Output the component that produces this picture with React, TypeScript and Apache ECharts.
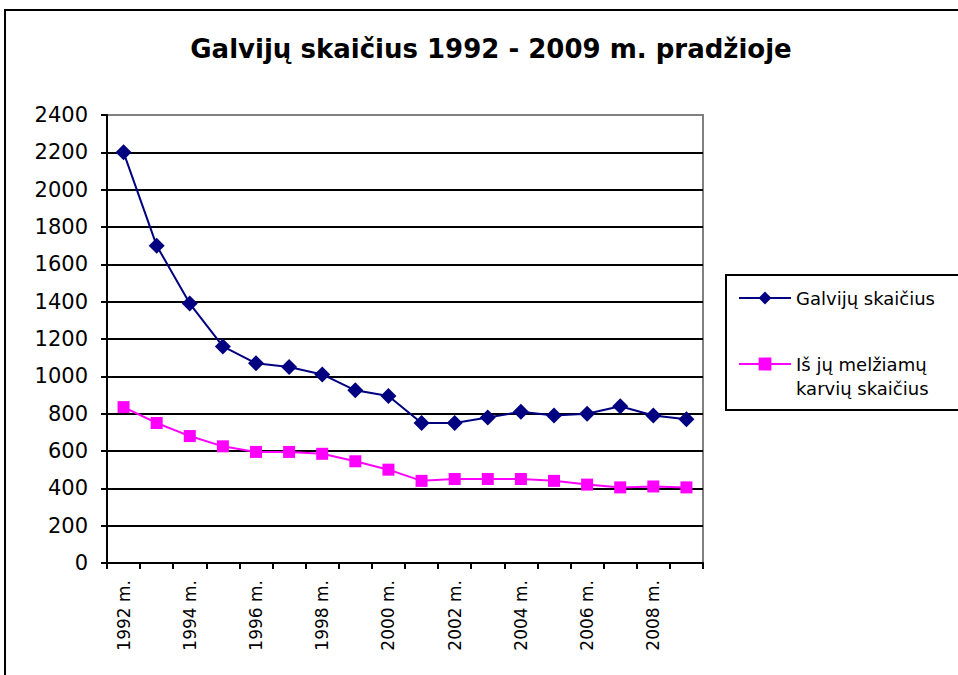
import React, { useEffect, useRef } from "react";
import * as echarts from "echarts";

const years = ["1992 m.", "1993 m.", "1994 m.", "1995 m.", "1996 m.", "1997 m.", "1998 m.", "1999 m.", "2000 m.", "2001 m.", "2002 m.", "2003 m.", "2004 m.", "2005 m.", "2006 m.", "2007 m.", "2008 m.", "2009 m."];
const galvijai = [2200, 1700, 1390, 1160, 1070, 1050, 1010, 925, 895, 750, 750, 780, 810, 790, 800, 840, 790, 770];
const karves = [835, 750, 680, 625, 595, 595, 585, 545, 500, 440, 450, 450, 450, 440, 420, 405, 410, 405];
const seriesNames = ["Galvijų skaičius", "Iš jų melžiamų\nkarvių skaičius"];
const titleText = "Galvijų skaičius 1992 - 2009 m. pradžioje";

const FONT = "'DejaVu Sans', Verdana, sans-serif";

export default function App() {
  const ref = useRef<HTMLDivElement>(null);
  useEffect(() => {
    if (!ref.current) return;
    const chart = echarts.init(ref.current, null, { renderer: "svg" });
    const gridColors = new Array(12).fill("#000000").concat(["#808080"]);
    chart.setOption({
      animation: false,
      backgroundColor: "#ffffff",
      textStyle: { fontFamily: FONT },
      title: {
        text: titleText,
        left: 486,
        textAlign: "center",
        top: 31,
        textStyle: { fontFamily: FONT, fontSize: 26, fontWeight: "bold", color: "#000" },
      },
      graphic: [
        {
          type: "rect",
          shape: { x: 5, y: 10, width: 1000, height: 700 },
          style: { fill: "none", stroke: "#000", lineWidth: 2 },
          silent: true,
        },
        {
          type: "rect",
          shape: { x: 726, y: 275, width: 300, height: 135 },
          style: { fill: "none", stroke: "#000", lineWidth: 2 },
          silent: true,
        },
      ],
      legend: [
        {
          left: 738,
          top: 286,
          padding: 0,
          itemWidth: 52,
          itemHeight: 16,
          itemGap: 5,
          data: [{ name: seriesNames[0] }],
          textStyle: { fontFamily: FONT, fontSize: 18, color: "#000", lineHeight: 24 },
        },
        {
          left: 738,
          top: 328,
          padding: 0,
          itemWidth: 52,
          itemHeight: 16,
          data: [{ name: seriesNames[1] }],
          formatter: (name: string) => "\n" + name,
          textStyle: { fontFamily: FONT, fontSize: 18, color: "#000", lineHeight: 24 },
        },
      ],
      grid: {
        left: 107,
        top: 115,
        width: 596,
        height: 448,
        show: true,
        borderColor: "#808080",
        borderWidth: 2,
        backgroundColor: "transparent",
      },
      xAxis: {
        type: "category",
        data: years,
        boundaryGap: true,
        axisLine: { lineStyle: { color: "#000", width: 2 } },
        axisTick: { show: true, interval: 0, length: 6, lineStyle: { color: "#000", width: 2 } },
        axisLabel: {
          interval: 1,
          rotate: 90,
          margin: 17,
          fontFamily: FONT,
          fontSize: 17,
          color: "#000",
        },
        splitLine: { show: false },
      },
      yAxis: {
        type: "value",
        min: 0,
        max: 2400,
        interval: 200,
        axisLine: { show: true, lineStyle: { color: "#000", width: 2 } },
        axisTick: { show: true, length: 6, lineStyle: { color: "#000", width: 2 } },
        axisLabel: {
          margin: 19,
          fontFamily: FONT,
          fontSize: 21,
          color: "#000",
          formatter: (v: number) => String(v),
        },
        splitLine: { show: true, lineStyle: { color: gridColors, width: 2 } },
      },
      series: [
        {
          name: seriesNames[0],
          type: "line",
          data: galvijai,
          symbol: "diamond",
          symbolSize: 16,
          lineStyle: { color: "#000080", width: 2 },
          itemStyle: { color: "#000080" },
        },
        {
          name: seriesNames[1],
          type: "line",
          data: karves,
          symbol: "rect",
          symbolSize: 12,
          lineStyle: { color: "#FF00FF", width: 2 },
          itemStyle: { color: "#FF00FF" },
        },
      ],
    });
    return () => chart.dispose();
  }, []);
  return (
    <div
      ref={ref}
      style={{ position: "fixed", left: 0, top: 0, width: 958, height: 675, background: "#fff" }}
    />
  );
}
